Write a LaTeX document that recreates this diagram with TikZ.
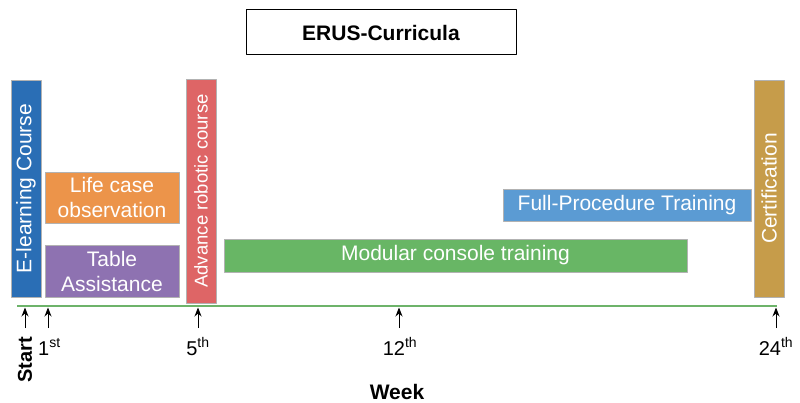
\documentclass[tikz,border=0pt]{standalone}
\usepackage{fontspec}
\usetikzlibrary{arrows.meta}
\setmainfont{Liberation Sans}
\definecolor{cElearn}{HTML}{2A6EB5}
\definecolor{cLife}{HTML}{EC944A}
\definecolor{cTable}{HTML}{8E72B1}
\definecolor{cRobot}{HTML}{DE6566}
\definecolor{cModular}{HTML}{68B665}
\definecolor{cFull}{HTML}{5B9BD3}
\definecolor{cCert}{HTML}{C69C4A}
\definecolor{cAxis}{HTML}{6DB36A}
\tikzset{
	bar/.style={draw=gray!60, line width=0.8pt, fill=#1, text=white, inner sep=0pt, align=center},
	vbar/.style={bar=#1, rotate=90, minimum width=217pt, minimum height=30pt},
	weeklbl/.style={anchor=base, font=\fontsize{20}{24}\selectfont}
}
\begin{document}
\begin{tikzpicture}[x=1pt, y=-1pt, font=\fontsize{21}{25}\selectfont, line join=round, >={Stealth[length=9pt, width=7pt]}]
	\useasboundingbox (0,0) rectangle (800,403);
	\def\yax{306}\def\ytail{328}
	\node[draw=black, line width=1pt, minimum width=270pt, minimum height=45pt, font=\fontsize{21}{25}\selectfont\bfseries]
		(title) at (381,32.5) {ERUS-Curricula};
	\node[vbar=cElearn] (elearn) at (26,188.5) {E-learning Course};
	\node[vbar=cRobot, minimum width=224pt, font=\fontsize{18.5}{22}\selectfont] (robot) at (201,191) {Advance robotic course};
	\node[vbar=cCert] (cert) at (769,188.5) {Certification};
	\node[bar=cLife, minimum width=134pt, minimum height=51pt] (life) at (112,197.5) {Life case\\observation};
	\node[bar=cTable, minimum width=134pt, minimum height=52pt] (table) at (112,271) {Table\\Assistance};
	\node[bar=cModular, minimum width=463pt, minimum height=33pt] (modular) at (455.5,255.5) {Modular console training};
	\node[bar=cFull, minimum width=248pt, minimum height=32pt] (full) at (627,205) {Full-Procedure Training};
	\path
	(17,\yax) coordinate (axL)
	(777,\yax) coordinate (axR)
	;
	\draw[cAxis, line width=1.2pt] (axL) -- (axR);
	\foreach \x/\n in {25/start, 48/w1, 198/w5, 399/w12, 776/w24}{
		\path (\x,\ytail) coordinate (\n-t) (\x,\yax+1.5) coordinate (\n-h);
		\draw[->, line width=0.9pt] (\n-t) -- (\n-h);
	}
	\node[rotate=90, font=\fontsize{20}{24}\selectfont\bfseries] (start) at (25,360) {Start};
	\node[weeklbl] (l1) at (49.5,355) {1\textsuperscript{st}};
	\node[weeklbl] (l5) at (198,355) {5\textsuperscript{th}};
	\node[weeklbl] (l12) at (400,355) {12\textsuperscript{th}};
	\node[weeklbl] (l24) at (776,355) {24\textsuperscript{th}};
	\node[anchor=base, inner sep=1pt, font=\fontsize{21}{25}\selectfont\bfseries] (week) at (397,399.5) {Week};
\end{tikzpicture}
\end{document}
